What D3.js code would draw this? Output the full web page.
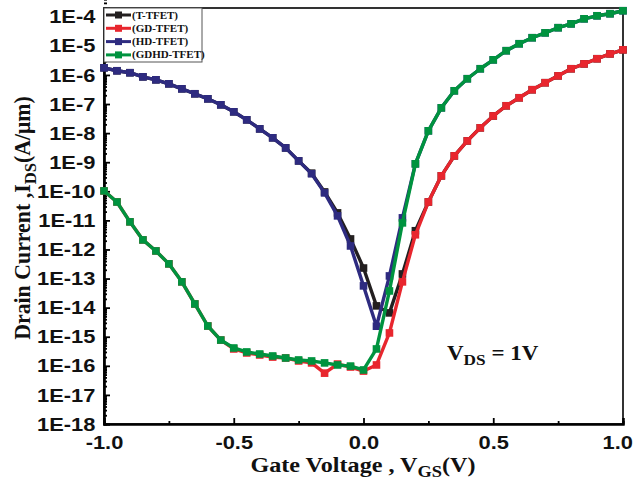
<!DOCTYPE html>
<html lang="en">
<meta charset="UTF-8">
<title>Drain current vs gate voltage</title>
<script src="https://d3js.org/d3.v7.min.js"></script>
<style>
body { margin: 0; background: #fff; }
svg { font-family: "Liberation Serif", "Times New Roman", serif; font-weight: bold; }
.series path.line { fill: none; stroke-width: 3.4; stroke-linejoin: round; }
</style>
<body>
<svg width="639" height="485"></svg>
<script>
// gate voltage steps (V)
const vgs = [-1.00, -0.95, -0.90, -0.85, -0.80, -0.75, -0.70, -0.65, -0.60, -0.55,
  -0.50, -0.45, -0.40, -0.35, -0.30, -0.25, -0.20, -0.15, -0.10, -0.05,
  0.00, 0.05, 0.10, 0.15, 0.20, 0.25, 0.30, 0.35, 0.40, 0.45,
  0.50, 0.55, 0.60, 0.65, 0.70, 0.75, 0.80, 0.85, 0.90, 0.95, 1.00];

// drain current (A/um)
const tTFET = [1.76e-6, 1.39e-6, 1.19e-6, 8.6e-7, 6.8e-7, 4.95e-7, 3.33e-7, 2.25e-7, 1.51e-7, 9.4e-8,
  5.4e-8, 2.86e-8, 1.4e-8, 6.9e-9, 3.1e-9, 1.11e-9, 4.2e-10, 9.5e-11, 1.81e-11, 2.3e-12,
  2.3e-13, 1.15e-14, 6.6e-15, 1.44e-13, 4.4e-12, 4.3e-11, 3.4e-10, 1.65e-9, 5.4e-9, 1.52e-8,
  3.9e-8, 8.7e-8, 1.64e-7, 3.1e-7, 5.4e-7, 9.3e-7, 1.63e-6, 2.4e-6, 3.6e-6, 5.3e-6, 7.3e-6];

const gdTFET = [1.03e-10, 4.3e-11, 8.9e-12, 2.13e-12, 8.9e-13, 3.2e-13, 7.7e-14, 1.34e-14, 2.34e-15, 7.7e-16,
  3.8e-16, 2.77e-16, 2.36e-16, 2.0e-16, 1.86e-16, 1.47e-16, 1.26e-16, 5.6e-17, 1.15e-16, 9.1e-17,
  6.6e-17, 1.07e-16, 1.35e-15, 7.7e-14, 3.2e-12, 4.3e-11, 3.4e-10, 1.65e-9, 5.4e-9, 1.52e-8,
  3.9e-8, 8.7e-8, 1.64e-7, 3.1e-7, 5.4e-7, 9.3e-7, 1.63e-6, 2.4e-6, 3.6e-6, 5.3e-6, 7.3e-6];

const hdTFET = [1.76e-6, 1.39e-6, 1.19e-6, 8.6e-7, 6.8e-7, 4.95e-7, 3.33e-7, 2.25e-7, 1.51e-7, 9.4e-8,
  5.4e-8, 2.86e-8, 1.4e-8, 6.9e-9, 3.1e-9, 1.11e-9, 4.0e-10, 8.8e-11, 1.43e-11, 1.32e-12,
  5.6e-14, 2.3e-15, 1.23e-13, 1.22e-11, 8.8e-10, 1.2e-8, 7.4e-8, 2.85e-7, 7.4e-7, 1.63e-6,
  3.3e-6, 6.8e-6, 1.18e-5, 1.9e-5, 2.8e-5, 4.2e-5, 5.7e-5, 8.5e-5, 1.08e-4, 1.27e-4, 1.61e-4];

const gdhdTFET = [1.03e-10, 4.3e-11, 8.9e-12, 2.13e-12, 8.9e-13, 3.2e-13, 7.7e-14, 1.34e-14, 2.34e-15, 7.7e-16,
  4.1e-16, 3.0e-16, 2.55e-16, 2.18e-16, 1.86e-16, 1.59e-16, 1.47e-16, 1.26e-16, 1.07e-16, 9.8e-17,
  7.2e-17, 3.8e-16, 3.75e-14, 8.2e-12, 8.8e-10, 1.2e-8, 7.4e-8, 2.85e-7, 7.4e-7, 1.63e-6,
  3.3e-6, 6.8e-6, 1.18e-5, 1.9e-5, 2.8e-5, 4.2e-5, 5.7e-5, 8.5e-5, 1.08e-4, 1.27e-4, 1.61e-4];

const seriesNames = ['(T-TFET)', '(GD-TFET)', '(HD-TFET)', '(GDHD-TFET)'];
const seriesColors = ['#231f20', '#e8262e', '#2e2b80', '#00933f'];
const seriesValues = [tTFET, gdTFET, hdTFET, gdhdTFET];

const xTicks = [-1.0, -0.5, 0.0, 0.5, 1.0];
const xMinorTicks = [-0.75, -0.25, 0.25, 0.75];
const yDecades = d3.range(-18, -3); // 1E-18 .. 1E-4

const svg = d3.select('svg');
const plotL = 104, plotR = 623, plotT = 8, plotB = 424;
const stretch = 'scale(1.15,1)';

const x = d3.scaleLinear().domain([-1, 1]).range([plotL, plotR]);
const y = d3.scaleLog().domain([1e-18, 2e-4]).range([plotB, plotT]);

// frame
svg.append('rect')
  .attr('x', plotL).attr('y', plotT)
  .attr('width', plotR - plotL).attr('height', plotB - plotT)
  .attr('fill', 'none').attr('stroke', '#000').attr('stroke-width', 1.6);

// y axis
const majorY = yDecades.map(e => Math.pow(10, e));
const minorY = [];
yDecades.forEach(e => { for (let k = 2; k <= 9; k++) minorY.push(k * Math.pow(10, e)); });

const yAxisG = svg.append('g').attr('transform', `translate(${plotL},0)`);
yAxisG.call(d3.axisLeft(y).tickValues(minorY).tickSize(-3).tickFormat(''));
const yMajor = yAxisG.append('g').call(d3.axisLeft(y).tickValues(majorY).tickSize(-6).tickPadding(8)
  .tickFormat(d => '1E' + Math.round(Math.log10(d))));
yAxisG.selectAll('.domain').attr('stroke-width', 2.2);
yAxisG.selectAll('line').attr('stroke-width', 1.8);
yMajor.selectAll('text')
  .attr('font-size', 19).attr('font-family', null).attr('fill', '#111')
  .attr('transform', stretch).attr('x', -7.5);

// x axis
const xAxisG = svg.append('g').attr('transform', `translate(0,${plotB})`);
xAxisG.call(d3.axisBottom(x).tickValues(xMinorTicks).tickSize(-3).tickFormat(''));
const xMajor = xAxisG.append('g').call(d3.axisBottom(x).tickValues(xTicks).tickSize(-6).tickPadding(8)
  .tickFormat(d => d3.format('.1f')(d).replace('\u2212', '-')));
xAxisG.selectAll('.domain').attr('stroke-width', 2.2);
xAxisG.selectAll('line').attr('stroke-width', 1.8);
xMajor.selectAll('text')
  .attr('font-size', 19).attr('font-family', null).attr('fill', '#111')
  .attr('transform', stretch)
  .attr('x', d => d === 1 ? -5 : 0)
  .attr('y', 10)
  .attr('dy', '0.8em');

// curves
const line = d3.line()
  .x(d => x(d[0]))
  .y(d => y(d[1]));

seriesValues.forEach((vals, i) => {
  const pts = vgs.map((v, j) => [v, vals[j]]);
  const g = svg.append('g').attr('class', 'series');
  g.append('path').attr('class', 'line')
    .attr('d', line(pts))
    .attr('stroke', seriesColors[i]);
  g.selectAll('rect').data(pts).enter().append('rect')
    .attr('x', d => x(d[0]) - 3.8)
    .attr('y', d => y(d[1]) - 3.8)
    .attr('width', 7.6).attr('height', 7.6)
    .attr('fill', seriesColors[i]);
});

// legend
const leg = svg.append('g').attr('transform', `translate(${plotL},${plotT})`);
leg.append('rect')
  .attr('x', 0).attr('y', 0).attr('width', 98).attr('height', 54)
  .attr('fill', '#fff').attr('stroke', '#555').attr('stroke-width', 1);
seriesNames.forEach((name, i) => {
  const ly = 7 + i * 13.3;
  leg.append('line')
    .attr('x1', 2).attr('x2', 27).attr('y1', ly).attr('y2', ly)
    .attr('stroke', seriesColors[i]).attr('stroke-width', 3);
  leg.append('rect')
    .attr('x', 11).attr('y', ly - 3.5).attr('width', 7).attr('height', 7)
    .attr('fill', seriesColors[i]);
  leg.append('text')
    .attr('transform', `translate(28,${ly + 3.5}) scale(1.1,1)`)
    .attr('font-size', 10).attr('fill', '#111')
    .text(name);
});

// annotation
const ann = svg.append('text')
  .attr('transform', `translate(447,360) ${stretch}`)
  .attr('font-size', 20).attr('fill', '#111');
ann.append('tspan').text('V');
ann.append('tspan').attr('font-size', 15).attr('dy', 5).text('DS');
ann.append('tspan').attr('dy', -5).text(' = 1V');

// axis titles
const xt = svg.append('text')
  .attr('transform', `translate(363,472) ${stretch}`)
  .attr('text-anchor', 'middle')
  .attr('font-size', 21).attr('fill', '#111');
xt.append('tspan').text('Gate Voltage , V');
xt.append('tspan').attr('font-size', 16).attr('dy', 5).text('GS');
xt.append('tspan').attr('dy', -5).text('(V)');

const yt = svg.append('text')
  .attr('transform', 'translate(30,218) rotate(-90) scale(1.04,1.1)')
  .attr('text-anchor', 'middle')
  .attr('font-size', 21).attr('fill', '#111');
yt.append('tspan').text('Drain Current ,I');
yt.append('tspan').attr('font-size', 16).attr('dy', 5).text('DS');
yt.append('tspan').attr('dy', -5).text('(A/\u03bcm)');
</script>
</body>
</html>
